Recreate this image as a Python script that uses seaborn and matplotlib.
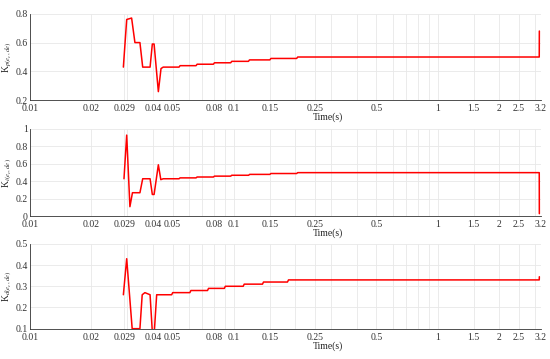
import numpy as np
import pandas as pd
import seaborn as sns
import matplotlib.pyplot as plt
from matplotlib import ticker

sns.set_style("white")
plt.rcParams['font.family'] = ['Liberation Serif', 'DejaVu Serif']
plt.rcParams['mathtext.fontset'] = 'stix'

# transient part of each gain (time in s, value)
t_kp = [0.0287, 0.0298, 0.0315, 0.0327, 0.0346, 0.0357, 0.0388, 0.0398, 0.0406, 0.0426, 0.0439, 0.045]
kp = [0.43, 0.76, 0.77, 0.60, 0.60, 0.43, 0.43, 0.59, 0.59, 0.26, 0.42, 0.43]
kp_step_t = [0.0538, 0.0652, 0.0793, 0.0964, 0.1178, 0.150, 0.203]
kp_levels = [0.44, 0.45, 0.46, 0.47, 0.48, 0.49, 0.50]
kp_end = 0.68

t_ki = [0.0289, 0.0298, 0.0309, 0.0318, 0.0346, 0.0357, 0.0388, 0.0398, 0.0406, 0.0426, 0.0438, 0.045]
ki = [0.43, 0.93, 0.11, 0.27, 0.27, 0.43, 0.43, 0.25, 0.25, 0.59, 0.42, 0.43]
ki_step_t = [0.0538, 0.0652, 0.0793, 0.0964, 0.118, 0.150, 0.203]
ki_levels = [0.44, 0.45, 0.46, 0.47, 0.48, 0.49, 0.50]
ki_end = 0.03

t_kd = [0.0287, 0.0298, 0.0317, 0.0346, 0.0355, 0.0366, 0.0388, 0.0398, 0.0407, 0.0418]
kd = [0.26, 0.43, 0.10, 0.10, 0.26, 0.27, 0.26, 0.085, 0.085, 0.26]
kd_step_t = [0.0495, 0.0608, 0.0742, 0.0897, 0.111, 0.138, 0.183]
kd_levels = [0.27, 0.28, 0.29, 0.30, 0.31, 0.32, 0.33]
kd_end = 0.345

t_final = 3.14

xticks = [0.01, 0.02, 0.029, 0.04, 0.05, 0.08, 0.1, 0.15, 0.25, 0.5, 1, 1.5, 2, 2.5, 3.2]
xtick_labels = ['0.01', '0.02', '0.029', '0.04', '0.05', '0.08', '0.1', '0.15',
                '0.25', '0.5', '1', '1.5', '2', '2.5', '3.2']
xminor = [0.03, 0.06, 0.07, 0.09, 0.2, 0.3, 0.4, 0.6, 0.7, 0.8, 0.9, 3]


def build(t0, v0, step_t, levels, end_val):
    t = list(t0)
    v = list(v0)
    for s, lv in zip(step_t, levels):
        t += [s, s * 1.012]
        v += [v[-1], lv]
    t += [t_final, t_final * 1.001]
    v += [v[-1], end_val]
    return pd.DataFrame({'t': t, 'v': v})


panels = [
    (build(t_kp, kp, kp_step_t, kp_levels, kp_end), r'K$_{p(e_c,de)}$',
     (0.2, 0.8), [0.2, 0.4, 0.6, 0.8], [0.7206, 0.2412]),
    (build(t_ki, ki, ki_step_t, ki_levels, ki_end), r'K$_{i(e_c,de)}$',
     (0, 1), [0, 0.2, 0.4, 0.6, 0.8, 1], [0.3975, 0.2432]),
    (build(t_kd, kd, kd_step_t, kd_levels, kd_end), r'K$_{d(e_c,de)}$',
     (0.097, 0.5), [0.1, 0.2, 0.3, 0.4, 0.5], [0.0827, 0.238]),
]

fig = plt.figure(figsize=(5.5, 3.59), dpi=100)

for df, lab, ylim, yticks, (b, h) in panels:
    ax = fig.add_axes([0.0545, b, 0.929, h])
    sns.lineplot(data=df, x='t', y='v', ax=ax, color='#ff0000', lw=1.1,
                 sort=False, estimator=None)
    ax.set_xscale('log')
    ax.set_xlim(0.01, 3.2)
    ax.set_ylim(*ylim)
    ax.set_xticks(xticks)
    ax.set_xticklabels(xtick_labels)
    ax.xaxis.set_minor_locator(ticker.FixedLocator(xminor))
    ax.xaxis.set_minor_formatter(ticker.NullFormatter())
    ax.set_yticks(yticks)
    ax.set_yticklabels([('%g' % y) for y in yticks])
    ax.grid(True, which='both', axis='x', color='#e8e8e8', lw=0.6)
    ax.grid(True, which='major', axis='y', color='#e8e8e8', lw=0.6)
    for s in ['top', 'right']:
        ax.spines[s].set_visible(False)
    for s in ['left', 'bottom']:
        ax.spines[s].set_color('#333333')
        ax.spines[s].set_linewidth(0.6)
    ax.tick_params(axis='both', which='both', direction='in', labelsize=7,
                   colors='#333333', width=0.6, pad=1.5)
    ax.tick_params(axis='x', which='major', pad=3)
    ax.tick_params(axis='both', which='major', length=3)
    ax.tick_params(axis='x', which='minor', length=2)
    ax.set_xlabel('Time(s)', fontsize=7)
    ax.xaxis.set_label_coords(0.583, -12.5 / (h * 359))
    ax.set_ylabel(lab, fontsize=7)
    ax.yaxis.set_label_coords(-0.031, 0.5)

fig.savefig('out.png', dpi=100)
